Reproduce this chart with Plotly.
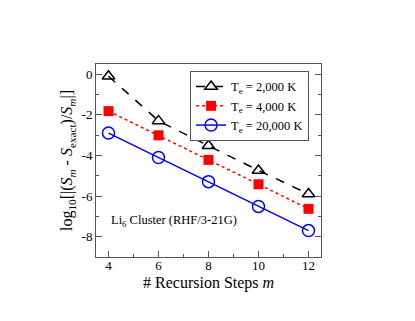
import plotly.graph_objects as go

# recursion steps and log10 relative error for each electronic temperature
steps = [4, 6, 8, 10, 12]
err_2000 = [-0.1, -2.3, -3.52, -4.74, -5.9]
err_4000 = [-1.82, -3.01, -4.22, -5.42, -6.63]
err_20000 = [-2.9, -4.1, -5.29, -6.51, -7.7]

series_names = ["T<sub>e</sub> = 2,000 K", "T<sub>e</sub> = 4,000 K", "T<sub>e</sub> = 20,000 K"]
x_ticks = [4, 6, 8, 10, 12]
y_ticks = [0, -2, -4, -6, -8]

SERIF = "Liberation Serif, Times New Roman, serif"

fig = go.Figure()
fig.add_trace(go.Scatter(
    x=steps, y=err_2000, name=series_names[0], mode="lines+markers",
    line=dict(color="black", width=1.5, dash="dash"),
    marker=dict(symbol="triangle-up-open", size=11, color="black", line=dict(width=1.5)),
))
fig.add_trace(go.Scatter(
    x=steps, y=err_4000, name=series_names[1], mode="lines+markers",
    line=dict(color="red", width=1.5, dash="dot"),
    marker=dict(symbol="square", size=10, color="red"),
))
fig.add_trace(go.Scatter(
    x=steps, y=err_20000, name=series_names[2], mode="lines+markers",
    line=dict(color="blue", width=1.5),
    marker=dict(symbol="circle-open", size=12, color="blue", line=dict(width=1.5)),
))

fig.add_annotation(
    x=4.0, y=-7.25, xanchor="left", yanchor="middle", showarrow=False,
    text="Li<sub>6</sub> Cluster (RHF/3-21G)",
    font=dict(family=SERIF, size=12.5, color="black"),
)
# x-axis title placed as paper annotation to sit close to the tick labels
fig.add_annotation(
    x=0.5, y=-0.135, xref="paper", yref="paper", xanchor="center", yanchor="middle",
    showarrow=False, text="# Recursion Steps <i>m</i>",
    font=dict(family=SERIF, size=16, color="black"),
)

axis_common = dict(
    showgrid=False, zeroline=False, showline=True, linecolor="#555555", linewidth=1,
    ticks="inside", ticklen=6, tickcolor="#555555",
    tickfont=dict(family=SERIF, size=13, color="black"),
    automargin=False,
)
fig.update_xaxes(
    range=[3.5, 12.5], tickvals=x_ticks, mirror=True, ticklabelstandoff=-4,
    minor=dict(dtick=1, ticks="inside", ticklen=3, tickcolor="#555555"),
    **axis_common,
)
fig.update_yaxes(
    range=[-9, 0.5], tickvals=y_ticks, ticktext=[str(v) for v in y_ticks], mirror="ticks",
    minor=dict(dtick=1, ticks="inside", ticklen=3, tickcolor="#555555"),
    title=dict(
        text="log<sub>10</sub>[|(<i>S</i><sub><i>m</i></sub> - <i>S</i><sub>exact</sub>)/<i>S</i><sub><i>m</i></sub>|]",
        font=dict(family=SERIF, size=16, color="black"), standoff=4,
    ),
    **axis_common,
)

fig.update_layout(
    width=415, height=321,
    margin=dict(l=88, r=102, t=56, b=72),
    paper_bgcolor="white", plot_bgcolor="white",
    font=dict(family=SERIF, color="black"),
    legend=dict(
        x=0.947, y=0.964, xanchor="right", yanchor="top",
        bordercolor="#555555", borderwidth=1, bgcolor="white",
        font=dict(family=SERIF, size=12.5, color="black"),
        itemwidth=30, tracegroupgap=0,
    ),
    showlegend=True,
)

fig.write_html("out.html")
